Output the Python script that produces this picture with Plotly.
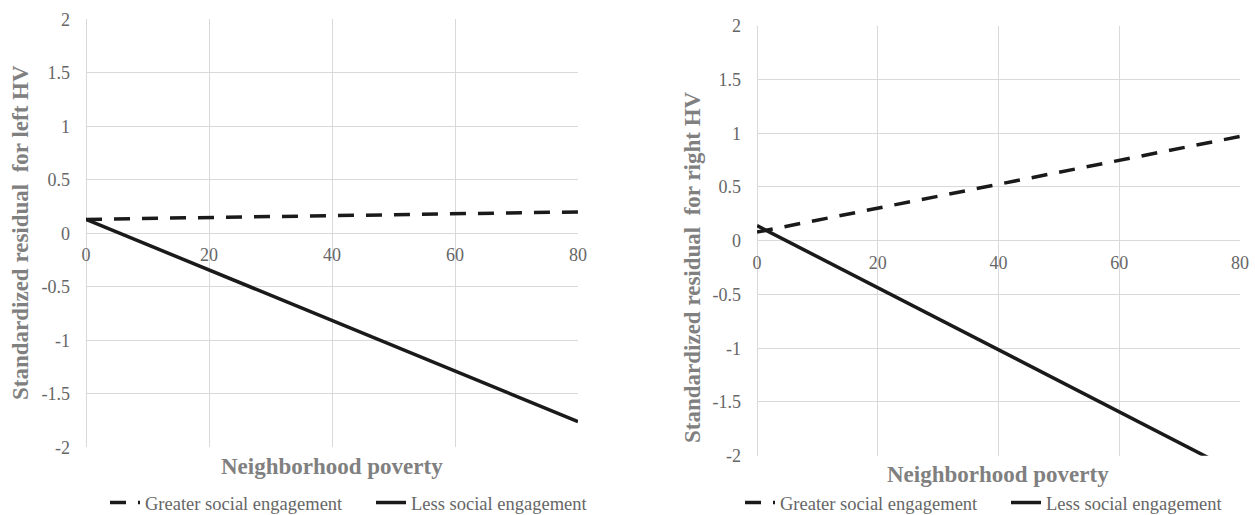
import plotly.graph_objects as go

# Neighborhood poverty (x) and predicted standardized residuals for each group
poverty = [0, 80]
left_greater = [0.13, 0.20]
left_less = [0.13, -1.76]
right_greater = [0.08, 0.97]
right_less = [0.14, -2.17]

x_ticks = [0, 20, 40, 60, 80]
y_ticks = [-2, -1.5, -1, -0.5, 0, 0.5, 1, 1.5, 2]
y_tick_text = ["-2", "-1.5", "-1", "-0.5", "0", "0.5", "1", "1.5", "2"]

W, H = 1255, 515
FONT = "'Liberation Serif', 'Times New Roman', Times, serif"
GRID = "#d9d9d9"
TICK_GREY = "#666666"
TITLE_GREY = "#808080"
LINE = "#1a1a1a"


def px_x(p):
    return p / W


def px_y(p):
    return 1 - p / H


# plot area domains (paper fractions)
L_x = [px_x(86), px_x(578)]
L_y = [px_y(447.3), px_y(19.3)]
R_x = [px_x(757), px_x(1240)]
R_y = [px_y(455.7), px_y(25.7)]

fig = go.Figure()

fig.add_trace(go.Scatter(x=poverty, y=left_greater, mode="lines", name="Greater social engagement",
                         line=dict(color=LINE, width=3.5, dash="16px,12px"),
                         xaxis="x", yaxis="y", legend="legend"))
fig.add_trace(go.Scatter(x=poverty, y=left_less, mode="lines", name="Less social engagement",
                         line=dict(color=LINE, width=3.5),
                         xaxis="x", yaxis="y", legend="legend"))
fig.add_trace(go.Scatter(x=poverty, y=right_greater, mode="lines", name="Greater social engagement",
                         line=dict(color=LINE, width=3.5, dash="16px,12px"),
                         xaxis="x2", yaxis="y2", legend="legend2"))
fig.add_trace(go.Scatter(x=poverty, y=right_less, mode="lines", name="Less social engagement",
                         line=dict(color=LINE, width=3.5),
                         xaxis="x2", yaxis="y2", legend="legend2"))

common_x = dict(range=[0, 80], tickvals=x_ticks, showgrid=True, gridcolor=GRID, gridwidth=1,
                zeroline=True, zerolinecolor=GRID, zerolinewidth=1, showline=False,
                tickfont=dict(family=FONT, size=18, color=TICK_GREY), ticks="",
                ticklabelstandoff=9, fixedrange=True)
common_y = dict(range=[-2, 2], tickvals=y_ticks, ticktext=y_tick_text, showgrid=True,
                gridcolor=GRID, gridwidth=1, zeroline=True, zerolinecolor=GRID, zerolinewidth=1,
                showline=False, tickfont=dict(family=FONT, size=18, color=TICK_GREY), ticks="",
                ticklabelstandoff=15, fixedrange=True)

legend_common = dict(orientation="h", xanchor="left", yanchor="middle",
                     font=dict(family=FONT, size=18.5, color=TICK_GREY),
                     bgcolor="rgba(0,0,0,0)", entrywidth=221, entrywidthmode="pixels",
                     tracegroupgap=0)

fig.update_layout(
    width=W, height=H,
    margin=dict(l=0, r=0, t=0, b=0, pad=0, autoexpand=False),
    paper_bgcolor="white", plot_bgcolor="white",
    xaxis=dict(domain=L_x, anchor="free", position=(L_y[0] + L_y[1]) / 2, **common_x),
    yaxis=dict(domain=L_y, anchor="x", **common_y),
    xaxis2=dict(domain=R_x, anchor="free", position=(R_y[0] + R_y[1]) / 2, **common_x),
    yaxis2=dict(domain=R_y, anchor="x2", **common_y),
    legend=dict(x=px_x(105), y=px_y(503), **legend_common),
    legend2=dict(x=px_x(740), y=px_y(503), **legend_common),
    showlegend=True,
)

annotations = [
    dict(text="<b>Standardized residual  for left HV</b>", x=px_x(20), y=px_y(233),
         textangle=-90, font=dict(family=FONT, size=23, color=TITLE_GREY)),
    dict(text="<b>Standardized residual  for right HV</b>", x=px_x(692), y=px_y(267),
         textangle=-90, font=dict(family=FONT, size=23, color=TITLE_GREY)),
    dict(text="<b>Neighborhood poverty</b>", x=px_x(332), y=px_y(466),
         font=dict(family=FONT, size=23, color=TITLE_GREY)),
    dict(text="<b>Neighborhood poverty</b>", x=px_x(998), y=px_y(474),
         font=dict(family=FONT, size=23, color=TITLE_GREY)),
]
for a in annotations:
    a.update(xref="paper", yref="paper", showarrow=False, xanchor="center", yanchor="middle")
fig.update_layout(annotations=annotations)

fig.write_html("out.html")
